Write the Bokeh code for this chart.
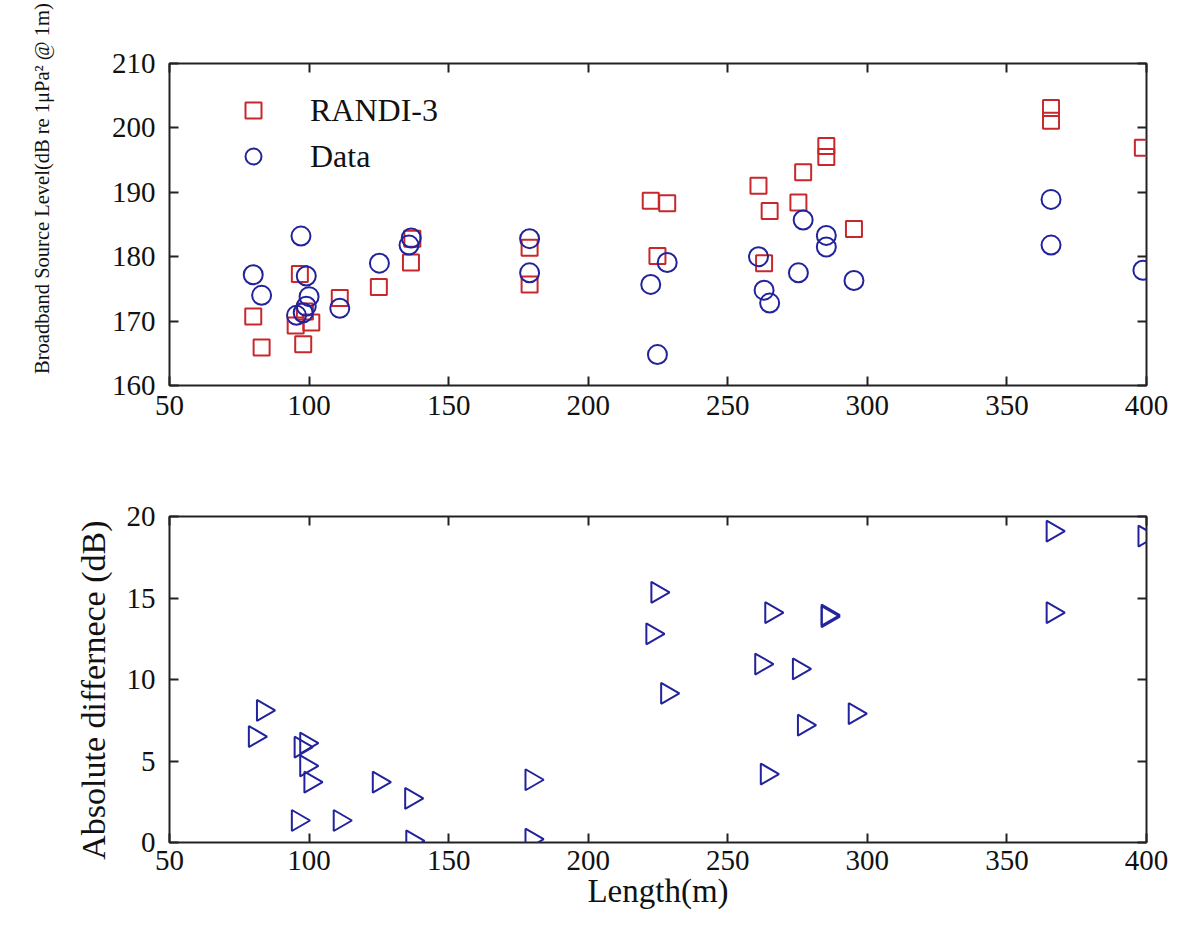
import math
from bokeh.plotting import figure
from bokeh.layouts import column, row
from bokeh.models import Range1d, FixedTicker, LinearAxis, CustomJSTickFormatter, Title
from bokeh.core.properties import value
from bokeh.embed import file_html
from bokeh.resources import INLINE

# ---------------- data ----------------
length_randi = [80, 83, 96.7, 95.2, 97.9, 100.8, 98.5, 111, 125, 136.5, 137, 179, 179,
                222.4, 228.3, 224.8, 261, 265, 263, 277, 275.3, 285.3, 285.3, 295.2,
                365.8, 365.8, 398.7]
randi_level = [170.7, 165.9, 177.3, 169.3, 166.4, 169.8, 171.5, 173.6, 175.3, 179.1, 182.8,
               181.4, 175.7, 188.7, 188.3, 180.1, 191.0, 187.1, 179.0, 193.1, 188.4, 197.2,
               195.5, 184.3, 203.1, 201.1, 196.9]

length_data = [80, 83, 97.1, 99, 100, 95.5, 97.9, 99, 111, 125.2, 136.6, 135.8, 179, 179,
               222.4, 224.8, 228.3, 261, 263, 265, 275.3, 277, 285.3, 285.3, 295.2,
               365.8, 365.8, 398.7]
data_level = [177.2, 174.0, 183.2, 177.0, 173.8, 170.9, 171.3, 172.3, 172.0, 179.0, 182.9,
              181.8, 182.8, 177.5, 175.7, 164.8, 179.1, 180.0, 174.8, 172.8, 177.5, 185.7,
              183.3, 181.5, 176.3, 188.9, 181.8, 177.9]

length_diff = [83.5, 80.6, 99, 97, 99, 100.5, 96, 111, 125, 136.6, 137, 179.7, 179.7,
               224.8, 223, 228.3, 265.6, 262, 264, 275.5, 277.3, 285.8, 285.8, 295.5,
               366.4, 366.4, 399.3]
abs_diff = [8.1, 6.5, 6.1, 5.85, 4.7, 3.7, 1.35, 1.35, 3.7, 2.7, 0.1, 3.85, 0.2,
            15.35, 12.8, 9.15, 14.1, 10.95, 4.2, 10.65, 7.2, 13.95, 13.85, 7.9,
            19.1, 14.1, 18.8]

x_ticks = [50, 100, 150, 200, 250, 300, 350, 400]
y_ticks_top = [160, 170, 180, 190, 200, 210]
y_ticks_bottom = [0, 5, 10, 15, 20]

top_ylabel = "Broadband Source Level(dB re 1\u03bcPa\u00b2 @ 1m)"
bottom_ylabel = "Absolute differnece (dB)"
xlabel = "Length(m)"

FONT = "Liberation Serif"
RED = "#c8282c"
BLUE = "#22229c"
AX = "#222222"
TXT = "#111111"

STRIP_W = 60          # width of the strip that carries the upper y label
TOTAL_H = 920


def style_axis(ax, ticks, labels=True, standoff=12, size="29px"):
    ax.ticker = FixedTicker(ticks=ticks)
    ax.axis_line_color = None
    ax.major_tick_in = 9
    ax.major_tick_out = 0
    ax.major_tick_line_width = 2
    ax.major_tick_line_color = AX
    ax.minor_tick_line_color = None
    ax.major_label_text_font = FONT
    ax.major_label_text_font_size = size
    ax.major_label_text_color = TXT
    ax.major_label_standoff = standoff
    ax.axis_label_text_font = FONT
    ax.axis_label_text_font_style = "normal"
    ax.axis_label_text_color = TXT
    if not labels:
        ax.formatter = CustomJSTickFormatter(code="return ''")


def make_fig(yr, top, bottom):
    p = figure(frame_width=977, frame_height=yr[2], x_range=Range1d(50, 400),
               y_range=Range1d(yr[0], yr[1]), output_backend="svg", toolbar_location=None,
               min_border_left=169 - STRIP_W, min_border_right=42, min_border_top=top,
               min_border_bottom=bottom)
    p.xgrid.visible = False
    p.ygrid.visible = False
    p.outline_line_color = AX
    p.outline_line_width = 2
    p.background_fill_color = "white"
    p.border_fill_color = "white"
    return p


# ---------------- strip with the upper y label ----------------
strip = figure(frame_width=STRIP_W, frame_height=TOTAL_H, x_range=Range1d(0, STRIP_W),
               y_range=Range1d(0, TOTAL_H), output_backend="svg", toolbar_location=None,
               min_border=0)
strip.axis.visible = False
strip.xgrid.visible = False
strip.ygrid.visible = False
strip.outline_line_color = None
strip.text(x=[41], y=[TOTAL_H - 188], text=[top_ylabel], angle=math.pi / 2,
           text_align="center", text_baseline="middle", text_font=value(FONT),
           text_font_size=value("20.5px"), text_color=TXT)

# ---------------- top panel ----------------
p1 = make_fig((160, 210, 322), 63, 48)
style_axis(p1.xaxis[0], x_ticks, standoff=10)
style_axis(p1.yaxis[0], y_ticks_top, standoff=14)
ra = LinearAxis(); style_axis(ra, y_ticks_top, labels=False)
ta = LinearAxis(); style_axis(ta, x_ticks, labels=False)
p1.add_layout(ra, "right")
p1.add_layout(ta, "above")

p1.scatter(length_randi, randi_level, marker="square", size=16, fill_color=None,
           line_color=RED, line_width=2, legend_label="RANDI-3")
p1.scatter(length_data, data_level, marker="circle", size=19, fill_color=None,
           line_color=BLUE, line_width=2, legend_label="Data")
lg = p1.legend[0]
lg.location = (64, 209)
lg.margin = 0
lg.padding = 0
lg.glyph_width = 40
lg.glyph_height = 40
lg.label_height = 40
lg.spacing = 6
lg.label_standoff = 37
lg.label_text_font = FONT
lg.label_text_font_size = "32px"
lg.label_text_color = TXT
lg.border_line_color = None
lg.background_fill_alpha = 0

# ---------------- bottom panel ----------------
p2 = make_fig((0, 20, 326), 83, 78)
style_axis(p2.xaxis[0], x_ticks, standoff=8)
style_axis(p2.yaxis[0], y_ticks_bottom, standoff=14)
p2.xaxis[0].axis_label = xlabel
p2.xaxis[0].axis_label_text_font_size = "33px"
p2.xaxis[0].axis_label_standoff = 0
ra2 = LinearAxis(); style_axis(ra2, y_ticks_bottom, labels=False)
ta2 = LinearAxis(); style_axis(ta2, x_ticks, labels=False)
p2.add_layout(ra2, "right")
p2.add_layout(ta2, "above")
p2.add_layout(Title(text=bottom_ylabel, align="right", offset=4, standoff=22,
                    vertical_align="middle", text_font=FONT, text_font_size="34px",
                    text_font_style="normal", text_color=TXT), "left")

p2.scatter(length_diff, abs_diff, marker="triangle", angle=-math.pi / 2, size=21,
           fill_color=None, line_color=BLUE, line_width=2)

layout = row(strip, column(p1, p2, spacing=0), spacing=0)
open("out.html", "w").write(file_html(layout, INLINE))
